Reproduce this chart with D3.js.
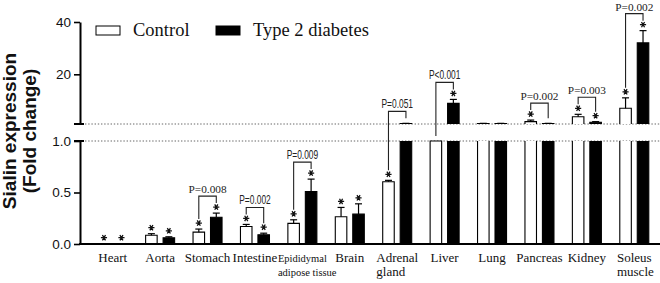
<!DOCTYPE html>
<html>
<head>
<meta charset="utf-8">
<script src="https://cdn.jsdelivr.net/npm/d3@7"></script>
<style>
  body { margin: 0; background: #fff; }
  svg { display: block; }
  .axis .tick text { font-family: "Liberation Sans", Arial, sans-serif; font-size: 13.5px; fill: #111; }
  .axis .tick line { stroke: #000; stroke-width: 1.6px; }
  .axis path.domain { stroke: #000; stroke-width: 2px; }
</style>
</head>
<body>
<div id="chart"></div>
<script>
// tissues in plotting order, with how the label is broken over lines
const tissues = ["Heart", "Aorta", "Stomach", "Intestine", "Epididymal adipose tissue", "Brain",
  "Adrenal gland", "Liver", "Lung", "Pancreas", "Kidney", "Soleus muscle"];
const tissueLines = [["Heart"], ["Aorta"], ["Stomach"], ["Intestine"], ["Epididymal", "adipose tissue"], ["Brain"],
  ["Adrenal", "gland"], ["Liver"], ["Lung"], ["Pancreas"], ["Kidney"], ["Soleus", "muscle"]];

const groups = ["Control", "Type 2 diabetes"];

// fold change (mean) and upper error
const controlMean  = [0.003, 0.085, 0.115, 0.17, 0.20, 0.265, 0.605, 1.0, 1.2, 1.9, 3.8, 7.0];
const controlErr   = [0,     0.015, 0.03,  0.02, 0.035, 0.09, 0.013, 0,   0.05, 0.6, 0.9, 4.0];
const diabetesMean = [0.003, 0.06,  0.26,  0.09, 0.51, 0.29,  1.2,   8.9, 1.2,  1.2, 1.65, 32];
const diabetesErr  = [0,     0.01,  0.04,  0.015, 0.12, 0.10, 0.05,  1.5, 0.05, 0.05, 0.25, 4.7];

// significance vs liver
const controlStar  = [true, true, true, true, true, true, true, false, false, true, true, true];
const diabetesStar = [true, true, true, true, true, true, false, true, false, false, true, true];

// control vs type 2 diabetes comparisons
const pTissues = ["Stomach", "Intestine", "Epididymal adipose tissue", "Adrenal gland", "Liver", "Pancreas", "Kidney", "Soleus muscle"];
const pLabels  = ["P=0.008", "P=0.002", "P=0.009", "P=0.051", "P<0.001", "P=0.002", "P=0.003", "P=0.002"];

const lowerTicks = [0, 0.5, 1.0];
const upperTicks = [20, 40];

// ---- drawing ----
const width = 660, height = 283;
const axisX = 80;
const breakTop = 124, breakBottom = 141;

const svg = d3.select("#chart").append("svg")
    .attr("width", width)
    .attr("height", height);

const x0 = d3.scaleBand().domain(tissues).range([89, 658]);
const x1 = d3.scaleBand().domain(groups)
    .range([x0.bandwidth() / 2 - 14.5, x0.bandwidth() / 2 + 14.5])
    .paddingInner(0.34);

const yLow = d3.scaleLinear().domain([0, 1]).range([244, breakBottom]);
const yHigh = d3.scaleLinear().domain([1, 40]).range([breakTop, 22]);
const yOf = v => v <= 1 ? yLow(v) : yHigh(v);

const records = [];
tissues.forEach((t, i) => {
    records.push({tissue: t, group: groups[0], mean: controlMean[i], err: controlErr[i], star: controlStar[i]});
    records.push({tissue: t, group: groups[1], mean: diabetesMean[i], err: diabetesErr[i], star: diabetesStar[i]});
});
records.forEach(d => {
    d.x = x0(d.tissue) + x1(d.group);
    d.w = x1.bandwidth();
    d.cx = d.x + d.w / 2;
    d.fill = d.group === groups[0] ? "#fff" : "#000";
});

// dotted lines at the axis break
svg.selectAll(".break-line")
    .data([breakTop, breakBottom])
    .join("line")
    .attr("x1", axisX + 5).attr("x2", width)
    .attr("y1", d => d).attr("y2", d => d)
    .attr("stroke", "#666")
    .attr("stroke-width", 1)
    .attr("stroke-dasharray", "1.4,1.8");

// bars, lower panel
const low = svg.append("g");
records.forEach(d => {
    const top = yLow(Math.min(d.mean, 1));
    const bottom = yLow(0);
    if (bottom - top < 0.3) return;
    low.append("rect")
        .attr("x", d.x).attr("y", top)
        .attr("width", d.w).attr("height", bottom - top)
        .attr("fill", d.fill);
    const path = d.mean > 1
        ? `M${d.x},${bottom}V${top}M${d.x + d.w},${top}V${bottom}`
        : `M${d.x},${bottom}V${top}H${d.x + d.w}V${bottom}`;
    low.append("path").attr("d", path).attr("fill", "none")
        .attr("stroke", "#000").attr("stroke-width", 1.1);
});

// bars, upper panel
const high = svg.append("g");
records.filter(d => d.mean > 1).forEach(d => {
    const top = yHigh(d.mean);
    high.append("rect")
        .attr("x", d.x).attr("y", top)
        .attr("width", d.w).attr("height", breakTop - top)
        .attr("fill", d.fill);
    high.append("path")
        .attr("d", `M${d.x},${breakTop}V${top}H${d.x + d.w}V${breakTop}`)
        .attr("fill", "none").attr("stroke", "#000").attr("stroke-width", 1.1);
});

// error bars
const errG = svg.append("g").attr("stroke", "#000").attr("stroke-width", 1.2);
records.filter(d => d.err > 0).forEach(d => {
    const y1 = yOf(d.mean), y2 = yOf(d.mean + d.err);
    errG.append("line").attr("x1", d.cx).attr("x2", d.cx).attr("y1", y1).attr("y2", y2);
    errG.append("line").attr("x1", d.cx - 3.5).attr("x2", d.cx + 3.5).attr("y1", y2).attr("y2", y2);
});

// stars
const star = d3.symbol(d3.symbolAsterisk, 26);
svg.append("g").selectAll("path")
    .data(records.filter(d => d.star))
    .join("path")
    .attr("transform", d => `translate(${d.cx},${yOf(d.mean + d.err) - 6}) rotate(90)`)
    .attr("d", star)
    .attr("fill", "none")
    .attr("stroke", "#111")
    .attr("stroke-width", 1.3);

// p-value brackets
const sansP = new Set(["Intestine", "Epididymal adipose tissue", "Adrenal gland", "Liver"]);
const brG = svg.append("g");
pTissues.forEach((t, i) => {
    const pair = records.filter(d => d.tissue === t);
    const ends = pair.map(d => yOf(d.mean + d.err) - (d.star ? 10 : 5));
    const top = Math.min(...ends) - 7;
    brG.append("path")
        .attr("d", `M${pair[0].cx},${ends[0]}V${top}H${pair[1].cx}V${ends[1]}`)
        .attr("fill", "none").attr("stroke", "#222").attr("stroke-width", 1.1);
    const sans = sansP.has(t);
    brG.append("text")
        .attr("transform", `translate(${(pair[0].cx + pair[1].cx) / 2},${top - 3}) scale(${sans ? 0.7 : 1},1)`)
        .attr("text-anchor", "middle")
        .attr("font-family", sans ? "'Liberation Sans', Arial, sans-serif" : "'Liberation Serif', 'Times New Roman', serif")
        .attr("font-size", sans ? 12 : 11.3)
        .attr("fill", "#222")
        .text(pLabels[i]);
});

// y axes (broken)
svg.append("g").attr("class", "axis")
    .attr("transform", `translate(${axisX},0)`)
    .call(d3.axisLeft(yLow).tickValues(lowerTicks).tickFormat(d3.format(".1f")).tickSize(6).tickSizeOuter(0).tickPadding(3));
svg.append("g").attr("class", "axis")
    .attr("transform", `translate(${axisX},0)`)
    .call(d3.axisLeft(yHigh).tickValues(upperTicks).tickSize(6).tickSizeOuter(0).tickPadding(3));

// break caps
svg.selectAll(".cap")
    .data([breakTop, breakBottom])
    .join("line")
    .attr("x1", axisX - 6).attr("x2", axisX + 4)
    .attr("y1", d => d).attr("y2", d => d)
    .attr("stroke", "#000").attr("stroke-width", 2);

// x axis baseline
svg.append("line")
    .attr("x1", axisX - 1).attr("x2", width)
    .attr("y1", yLow(0)).attr("y2", yLow(0))
    .attr("stroke", "#000").attr("stroke-width", 2);

// tissue labels
const serif = "'Liberation Serif', 'Times New Roman', serif";
tissues.forEach((t, i) => {
    const lines = tissueLines[i];
    const cx = x0(t) + x0.bandwidth() / 2;
    const fs = t.startsWith("Epididymal") ? 10.5 : 13;
    const first = svg.append("text")
        .attr("x", cx).attr("y", 262)
        .attr("text-anchor", "middle")
        .attr("font-family", serif).attr("font-size", fs).attr("fill", "#111")
        .text(lines[0]);
    if (lines.length > 1) {
        const left = cx - first.node().getComputedTextLength() / 2;
        svg.append("text")
            .attr("x", left).attr("y", 276)
            .attr("font-family", serif).attr("font-size", fs).attr("fill", "#111")
            .text(lines[1]);
    }
});

// legend
const legend = svg.append("g");
groups.forEach((g, i) => {
    const lx = [96, 216][i];
    legend.append("rect")
        .attr("x", lx).attr("y", 26).attr("width", 24).attr("height", 9)
        .attr("fill", i === 0 ? "#fff" : "#000")
        .attr("stroke", "#000").attr("stroke-width", 1);
    legend.append("text")
        .attr("x", lx + 37).attr("y", 36)
        .attr("font-family", serif).attr("font-size", 18.5).attr("fill", "#111")
        .text(g);
});

// y title
const titleFont = "'Liberation Sans', Arial, sans-serif";
[["Sialin expression", 15.5], ["(Fold change)", 35.5]].forEach(([txt, tx]) => {
    svg.append("text")
        .attr("transform", `translate(${tx},131) rotate(-90)`)
        .attr("text-anchor", "middle")
        .attr("font-family", titleFont).attr("font-weight", "bold")
        .attr("font-size", 19).attr("fill", "#111")
        .text(txt);
});
</script>
</body>
</html>
